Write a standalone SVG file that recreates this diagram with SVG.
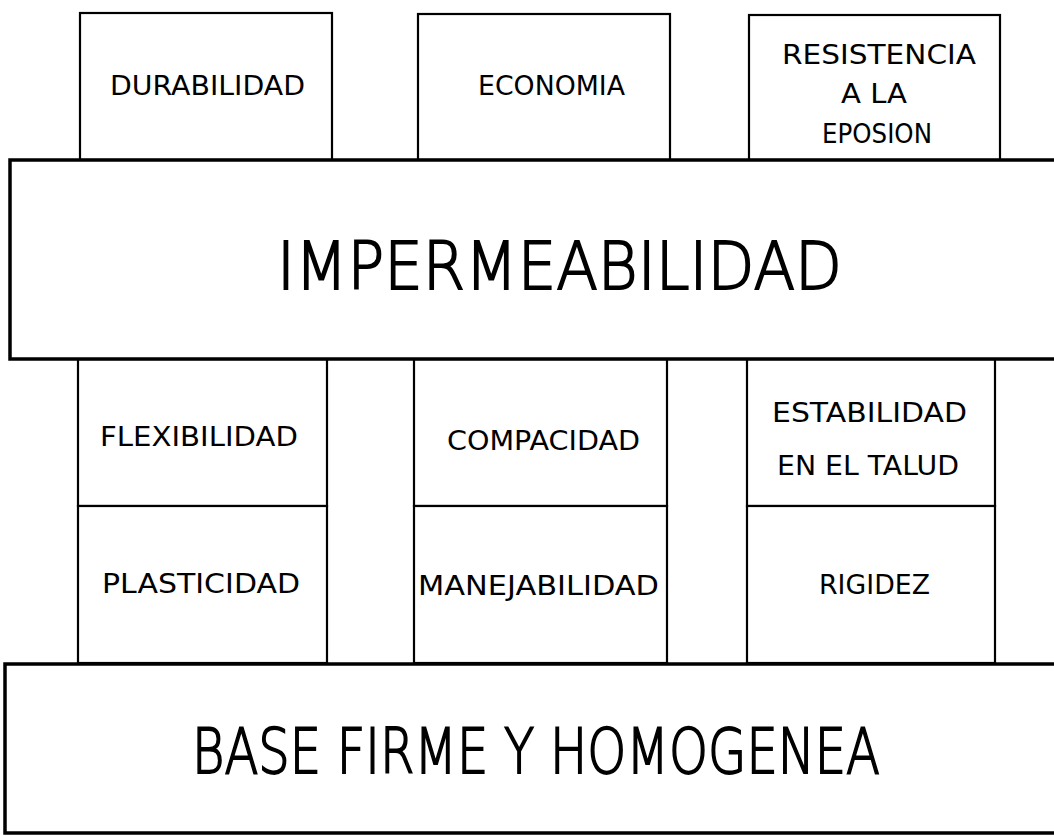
<svg xmlns="http://www.w3.org/2000/svg" width="1054" height="836" viewBox="0 0 1054 836">
<style>
.box{fill:#fff;stroke:#000;stroke-width:2.2}
.band{fill:#fff;stroke:#000;stroke-width:3.5}
.sm{font-family:"DejaVu Sans",sans-serif;font-size:26px;fill:#000;font-weight:normal}
.big{font-family:"DejaVu Sans",sans-serif;fill:#000;font-weight:200;stroke:#000;stroke-width:1.8}
</style>
<rect width="1054" height="836" fill="#fff"/>
<g id="durabilidad"><rect class="box" x="80" y="13" width="252" height="147"/><text class="sm" x="110" y="95" textLength="195" lengthAdjust="spacingAndGlyphs">DURABILIDAD</text></g>
<g id="economia"><rect class="box" x="418" y="14" width="252" height="146"/><text class="sm" x="478" y="95" textLength="147" lengthAdjust="spacingAndGlyphs">ECONOMIA</text></g>
<g id="resistencia"><rect class="box" x="749" y="15" width="251" height="145"/><text class="sm" x="782" y="64" textLength="194" lengthAdjust="spacingAndGlyphs">RESISTENCIA</text><text class="sm" x="841" y="103" textLength="66" lengthAdjust="spacingAndGlyphs">A LA</text><text class="sm" x="822" y="143" textLength="110" lengthAdjust="spacingAndGlyphs">EPOSION</text></g>
<g id="flexibilidad"><rect class="box" x="78" y="359" width="249" height="147"/><text class="sm" x="100" y="446" textLength="198" lengthAdjust="spacingAndGlyphs">FLEXIBILIDAD</text></g>
<g id="plasticidad"><rect class="box" x="78" y="506" width="249" height="157"/><text class="sm" x="102" y="593" textLength="198" lengthAdjust="spacingAndGlyphs">PLASTICIDAD</text></g>
<g id="compacidad"><rect class="box" x="414" y="359" width="253" height="147"/><text class="sm" x="447" y="450" textLength="193" lengthAdjust="spacingAndGlyphs">COMPACIDAD</text></g>
<g id="manejabilidad"><rect class="box" x="414" y="506" width="253" height="157"/><text class="sm" x="418" y="595" textLength="241" lengthAdjust="spacingAndGlyphs">MANEJABILIDAD</text></g>
<g id="estabilidad"><rect class="box" x="747" y="359" width="248" height="147"/><text class="sm" x="772" y="422" textLength="195" lengthAdjust="spacingAndGlyphs">ESTABILIDAD</text><text class="sm" x="777" y="475" textLength="182" lengthAdjust="spacingAndGlyphs">EN EL TALUD</text></g>
<g id="rigidez"><rect class="box" x="747" y="506" width="248" height="157"/><text class="sm" x="819" y="594" textLength="111" lengthAdjust="spacingAndGlyphs">RIGIDEZ</text></g>
<g id="impermeabilidad"><rect class="band" x="10" y="160" width="1060" height="199"/><text class="big" x="277" y="289" font-size="66" textLength="565" lengthAdjust="spacingAndGlyphs">IMPERMEABILIDAD</text></g>
<g id="base"><rect class="band" x="5" y="664" width="1070" height="169"/><text class="big" x="192" y="773" font-size="62" textLength="688" lengthAdjust="spacingAndGlyphs">BASE FIRME Y HOMOGENEA</text></g>
<g id="connectors"></g>
</svg>
